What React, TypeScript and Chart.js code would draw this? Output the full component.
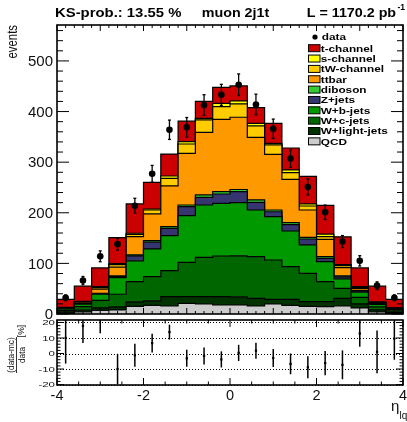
import React, { useEffect, useRef } from "react";
import { Chart, registerables } from "chart.js";
Chart.register(...registerables);

const FONT = '"Liberation Sans", Arial, Helvetica, sans-serif';

// ---- data ----
const binLowEdges = [-4.0, -3.6, -3.2, -2.8, -2.4, -2.0, -1.6, -1.2, -0.8, -0.4, 0.0, 0.4, 0.8, 1.2, 1.6, 2.0, 2.4, 2.8, 3.2, 3.6];
const binUpperEdge = 4.0;
const binCenters = [-3.8, -3.4, -3.0, -2.6, -2.2, -1.8, -1.4, -1.0, -0.6, -0.2, 0.2, 0.6, 1.0, 1.4, 1.8, 2.2, 2.6, 3.0, 3.4, 3.8];

const tChannel = [16, 30, 37, 51.5, 58, 52.5, 43.3, 40.4, 33.3, 31.7, 29.6, 31, 39.5, 43.4, 54.6, 56.8, 54.8, 37, 31, 17];
const sChannel = [0.5, 0.5, 2, 2, 2, 2, 4.7, 4.6, 3.3, 6.5, 6, 5.3, 3.3, 5.3, 4, 5.2, 2, 2, 0.5, 0.5];
const tWChannel = [0.5, 1, 3, 5, 4.5, 7.5, 15, 18.5, 24.4, 25, 26.3, 22.5, 18.5, 13.3, 7.9, 5.2, 4, 2, 1, 0.5];
const ttbar = [1, 2.5, 8, 17, 36, 53, 80.4, 102, 123.8, 143, 142.7, 123.7, 110, 85.5, 54, 34.3, 16.2, 4, 2, 1];
const diboson = [0.3, 0.5, 1, 1.5, 2, 3, 3.3, 3.4, 4.6, 4.6, 4.2, 4.6, 3.5, 4, 3.3, 3.3, 2, 1, 0.5, 0.3];
const zJets = [0.5, 1, 1, 2, 10, 13.5, 14.5, 17.7, 15.2, 18.5, 21.8, 15.2, 9.6, 12.5, 11.8, 6.6, 4, 2, 1, 0.5];
const wbJets = [3, 5, 12, 33, 41, 54.5, 69.2, 92.3, 103.4, 104, 105, 92.2, 85.7, 70.5, 56, 39.4, 19, 10, 5, 3];
const wcJets = [3, 7, 15, 25, 40, 48, 51.3, 67.7, 77.7, 80.3, 81, 82.3, 77.7, 64.5, 56, 39.6, 19.7, 13, 6, 3];
const wLightJets = [3, 3.5, 5, 6, 9, 9, 18.5, 13.3, 14.5, 16.5, 16.2, 15.2, 9.2, 12, 9.2, 9.9, 15, 8, 4, 2];
const qcd = [1.2, 4, 7, 8, 15, 17, 15.8, 21, 19.8, 17.8, 17.8, 15.8, 19.8, 17, 15.2, 14.5, 15.8, 12, 4, 1.2];

const dataValues = [32, 66, 114, 138, 214, 277, 364, 369, 413, 433, 453, 414, 366, 307, 251, 201, 143, 105, 56, 32];
const dataErrors = [5.7, 8.1, 10.7, 11.7, 14.6, 16.6, 19.1, 19.2, 20.3, 20.8, 21.3, 20.3, 19.1, 17.5, 15.8, 14.2, 12, 10.2, 7.5, 5.7];

const ratioValues = [10, 17.8, 23, -10, -1.1, 6.7, 13.8, -3.1, -1.6, -3.8, 0.4, 1.8, -2.9, -6.7, -8.9, -6.2, -7.3, 12.9, 1.1, 9.6];
const ratioErrors = [16.5, 11, 10, 9.8, 7.4, 6.1, 4.8, 5.5, 5.5, 5.2, 5.2, 5.2, 5.8, 6.7, 7.1, 7.8, 9.3, 8.6, 13.8, 13.6];

const mainYTicks = [0, 100, 200, 300, 400, 500];
const mainYTickLabels = ["0", "100", "200", "300", "400", "500"];
const ratioYTicks = [-20, -10, 0, 10, 20];
const ratioYTickLabels = ["-20", "-10", "0", "10", "20"];
const xTicks = [-4, -2, 0, 2, 4];
const xTickLabels = ["-4", "-2", "0", "2", "4"];

// stack, bottom to top
const stackLabels = ["QCD", "W+light-jets", "W+c-jets", "W+b-jets", "Z+jets", "diboson", "ttbar", "tW-channel", "s-channel", "t-channel"];
const stackSeries = [qcd, wLightJets, wcJets, wbJets, zJets, diboson, ttbar, tWChannel, sChannel, tChannel];
const stackColors = ["#cccccc", "#003300", "#006600", "#009900", "#353570", "#33cc33", "#ff9900", "#ffcc00", "#ffff00", "#cc0000"];

function drawText(ctx: CanvasRenderingContext2D, s: string, x: number, y: number, o: any = {}) {
  const { size = 12, bold = false, align = "left", sx = 1, sy = 1, rot = 0, color = "#000" } = o;
  ctx.save();
  ctx.translate(x, y);
  if (rot) ctx.rotate(rot);
  ctx.scale(sx, sy);
  ctx.font = `${bold ? "bold " : ""}${size}px ${FONT}`;
  ctx.textAlign = align;
  ctx.textBaseline = "alphabetic";
  ctx.fillStyle = color;
  ctx.fillText(s, 0, 0);
  ctx.restore();
}

function line(ctx: CanvasRenderingContext2D, x1: number, y1: number, x2: number, y2: number) {
  ctx.beginPath();
  ctx.moveTo(x1, y1);
  ctx.lineTo(x2, y2);
  ctx.stroke();
}

const mainDecor = {
  id: "mainDecor",
  afterDatasetsDraw(chart: any) {
    const { ctx, scales } = chart;
    const x = scales.x, y = scales.y;
    ctx.save();
    ctx.strokeStyle = "#000";
    ctx.lineWidth = 1.3;
    dataValues.forEach((v, i) => {
      const px = x.getPixelForValue(binCenters[i]);
      const y1 = y.getPixelForValue(v - dataErrors[i]);
      const y2 = y.getPixelForValue(v + dataErrors[i]);
      line(ctx, px, y1, px, y2);
      line(ctx, px - 1.5, y1, px + 1.5, y1);
      line(ctx, px - 1.5, y2, px + 1.5, y2);
    });
    ctx.restore();
  },
  afterDraw(chart: any) {
    const { ctx, chartArea: ca, scales } = chart;
    const x = scales.x, y = scales.y;
    ctx.save();
    ctx.strokeStyle = "#000";
    // ticks
    ctx.lineWidth = 1;
    for (let v = 0; v <= 560; v += 20) {
      const py = y.getPixelForValue(v);
      const len = v % 100 === 0 ? 12 : 6;
      line(ctx, ca.left, py, ca.left + len, py);
      line(ctx, ca.right, py, ca.right - len, py);
    }
    for (let k = -20; k <= 20; k++) {
      const v = k * 0.2;
      const px = x.getPixelForValue(v);
      const len = k % 5 === 0 ? 6 : 3;
      line(ctx, px, ca.bottom, px, ca.bottom - len);
      line(ctx, px, ca.top, px, ca.top + len);
    }
    // frame
    ctx.lineWidth = 1.6;
    ctx.strokeRect(ca.left, ca.top, ca.right - ca.left, ca.bottom - ca.top);
    // y tick labels
    mainYTicks.forEach((v, i) => {
      drawText(ctx, mainYTickLabels[i], ca.left - 4, y.getPixelForValue(v) + 5.3, { size: 15, align: "right", color: "#111" });
    });
    // y title
    drawText(ctx, "events", 16.7, ca.top, { size: 15, align: "right", rot: -Math.PI / 2, sx: 0.76, color: "#111" });
    // title
    drawText(ctx, "KS-prob.: 13.55 %", 55, 17.3, { size: 14.3, bold: true, sx: 1.04, sy: 0.9 });
    drawText(ctx, "muon 2j1t", 201.7, 17.3, { size: 14.3, bold: true, sy: 0.9 });
    drawText(ctx, "L = 1170.2 pb", 306.7, 17.3, { size: 14.3, bold: true, sy: 0.9 });
    drawText(ctx, "-1", 397.5, 10, { size: 8.5, bold: true });
    // legend
    const lx = 308;
    ctx.beginPath();
    ctx.fillStyle = "#000";
    ctx.arc(315, 37, 2.6, 0, Math.PI * 2);
    ctx.fill();
    drawText(ctx, "data", 321.7, 37 + 3.3, { size: 11.8, bold: true, sy: 0.8 });
    for (let k = 0; k < stackLabels.length; k++) {
      const idx = stackLabels.length - 1 - k;
      const cy = 48.2 + 10.35 * k;
      ctx.fillStyle = stackColors[idx];
      ctx.fillRect(lx, cy - 3.5, 12, 7);
      ctx.lineWidth = 1;
      ctx.strokeStyle = "#000";
      ctx.strokeRect(lx + 0.5, cy - 3.5, 11.5, 7);
      drawText(ctx, stackLabels[idx], 320.7, cy + 3.3, { size: 11.8, bold: true, sy: 0.8 });
    }
    ctx.restore();
  },
};

const ratioDecor = {
  id: "ratioDecor",
  beforeDatasetsDraw(chart: any) {
    const { ctx, chartArea: ca, scales } = chart;
    const y = scales.y;
    ctx.save();
    ctx.strokeStyle = "#000";
    ctx.lineWidth = 1;
    ctx.setLineDash([1, 2]);
    ratioYTicks.forEach((v) => {
      const py = Math.round(y.getPixelForValue(v)) + 0.5;
      line(ctx, ca.left, py, ca.right, py);
    });
    ctx.restore();
  },
  afterDatasetsDraw(chart: any) {
    const { ctx, chartArea: ca, scales } = chart;
    const x = scales.x, y = scales.y;
    ctx.save();
    ctx.beginPath();
    ctx.rect(ca.left, ca.top, ca.right - ca.left, ca.bottom - ca.top);
    ctx.clip();
    ctx.strokeStyle = "#000";
    ctx.lineWidth = 1.5;
    ratioValues.forEach((v, i) => {
      const px = x.getPixelForValue(binCenters[i]);
      line(ctx, px, y.getPixelForValue(v - ratioErrors[i]), px, y.getPixelForValue(v + ratioErrors[i]));
    });
    ctx.restore();
  },
  afterDraw(chart: any) {
    const { ctx, chartArea: ca, scales } = chart;
    const x = scales.x, y = scales.y;
    ctx.save();
    ctx.strokeStyle = "#000";
    ctx.lineWidth = 1;
    for (let v = -20; v <= 20; v += 2) {
      const py = y.getPixelForValue(v);
      const len = v % 10 === 0 ? 7 : 3.5;
      line(ctx, ca.left, py, ca.left + len, py);
      line(ctx, ca.right, py, ca.right - len, py);
    }
    for (let k = -8; k <= 8; k++) {
      const px = x.getPixelForValue(k * 0.5);
      const len = k % 4 === 0 ? 7 : 3.5;
      line(ctx, px, ca.bottom, px, ca.bottom - len);
      line(ctx, px, ca.top, px, ca.top + len);
    }
    ctx.lineWidth = 1.6;
    ctx.strokeRect(ca.left, ca.top, ca.right - ca.left, ca.bottom - ca.top);
    ratioYTicks.forEach((v, i) => {
      drawText(ctx, ratioYTickLabels[i], ca.left - 2, y.getPixelForValue(v) + 2.7, { size: 11.5, align: "right", sy: 0.65, color: "#111" });
    });
    xTicks.forEach((v, i) => {
      drawText(ctx, xTickLabels[i], x.getPixelForValue(v), ca.bottom + 15, { size: 14.5, align: "center", color: "#111" });
    });
    // x title
    drawText(ctx, "η", 391, ca.bottom + 26, { size: 15, color: "#111" });
    drawText(ctx, "lq", 399.5, ca.bottom + 33.5, { size: 10, color: "#111" });
    // y title: fraction
    const cy = ca.top + 35;
    drawText(ctx, "(data-mc)", 13.5, cy, { size: 8.3, align: "center", rot: -Math.PI / 2, color: "#111" });
    ctx.lineWidth = 0.8;
    line(ctx, 16.5, cy - 18, 16.5, cy + 18);
    drawText(ctx, "data", 24.5, cy, { size: 8.3, align: "center", rot: -Math.PI / 2, color: "#111" });
    drawText(ctx, "[%]", 23.5, ca.top + 11, { size: 8.5, align: "center", rot: -Math.PI / 2, color: "#111" });
    ctx.restore();
  },
};

export default function App() {
  const mainRef = useRef<HTMLCanvasElement>(null);
  const ratioRef = useRef<HTMLCanvasElement>(null);

  useEffect(() => {
    const stackDatasets: any[] = stackSeries.map((vals, i) => ({
      type: "line",
      label: stackLabels[i],
      data: [
        ...binLowEdges.map((xv, j) => ({ x: xv, y: vals[j] })),
        { x: binUpperEdge, y: vals[vals.length - 1] },
      ],
      stepped: "before",
      fill: i === 0 ? "origin" : "-1",
      backgroundColor: stackColors[i],
      borderColor: "#000",
      borderWidth: 1.2,
      pointRadius: 0,
      pointHoverRadius: 0,
      tension: 0,
      stack: "mc",
      order: 2,
    }));
    stackDatasets.push({
      type: "scatter",
      label: "data",
      data: binCenters.map((xv, i) => ({ x: xv, y: dataValues[i] })),
      pointRadius: 3.3,
      pointHoverRadius: 3.3,
      backgroundColor: "#000",
      borderWidth: 0,
      stack: "data",
      order: 0,
    });

    const mainChart = new Chart(mainRef.current as HTMLCanvasElement, {
      type: "line",
      data: { datasets: stackDatasets },
      options: {
        animation: false,
        responsive: false,
        devicePixelRatio: 1,
        events: [],
        layout: { padding: { left: 57, right: 4, top: 25, bottom: 6 } },
        scales: {
          x: { type: "linear", min: -4, max: 4, display: false },
          y: { type: "linear", min: 0, max: 571, stacked: true, display: false },
        },
        plugins: { legend: { display: false }, tooltip: { enabled: false }, title: { display: false } },
      },
      plugins: [mainDecor],
    } as any);

    const ratioChart = new Chart(ratioRef.current as HTMLCanvasElement, {
      type: "scatter",
      data: {
        datasets: [
          {
            label: "(data-mc)/data",
            data: binCenters.map((xv, i) => ({ x: xv, y: ratioValues[i] })),
            pointStyle: "rect",
            pointRadius: 1.6,
            pointHoverRadius: 1.6,
            backgroundColor: "#000",
            borderWidth: 0,
          },
        ],
      },
      options: {
        animation: false,
        responsive: false,
        devicePixelRatio: 1,
        events: [],
        layout: { padding: { left: 57, right: 4, top: 4, bottom: 37 } },
        scales: {
          x: { type: "linear", min: -4, max: 4, display: false },
          y: { type: "linear", min: -20.3, max: 21.6, display: false },
        },
        plugins: { legend: { display: false }, tooltip: { enabled: false }, title: { display: false } },
      },
      plugins: [ratioDecor],
    } as any);

    return () => {
      mainChart.destroy();
      ratioChart.destroy();
    };
  }, []);

  return (
    <div style={{ position: "absolute", left: 0, top: 0, width: 407, height: 422, background: "#fff", overflow: "hidden" }}>
      <canvas ref={mainRef} width={407} height={320} style={{ position: "absolute", left: 0, top: 0 }} />
      <canvas ref={ratioRef} width={407} height={106} style={{ position: "absolute", left: 0, top: 316 }} />
    </div>
  );
}
